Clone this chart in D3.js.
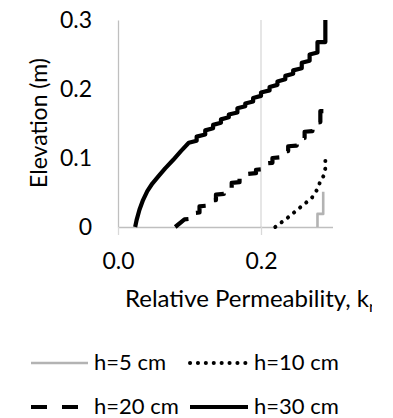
<!DOCTYPE html>
<html><head><meta charset="utf-8">
<script src="https://cdn.jsdelivr.net/npm/d3@7"></script>
<style>body{margin:0;background:#fff}svg{display:block}text{font-family:Lato,"Open Sans",sans-serif;fill:#000}</style>
</head><body><svg id="c" width="393" height="418"></svg>
<script>
// Data: k = relative permeability, z = elevation (m)
const seriesNames = ["h=5 cm", "h=10 cm", "h=20 cm", "h=30 cm"];
const k5  = [0.279, 0.279, 0.287, 0.287];
const z5  = [0.000, 0.019, 0.019, 0.051];
const k10 = [0.220, 0.238, 0.2555, 0.271, 0.279, 0.2825, 0.288, 0.290, 0.290];
const z10 = [0.000, 0.014, 0.029, 0.042, 0.055, 0.065, 0.075, 0.085, 0.100];
const k20 = [0.080,0.093,0.103,0.103,0.114,0.114,0.125,0.125,0.137,0.137,0.148,0.148,0.159,0.159,0.170,0.170,0.182,0.182,0.193,0.193,0.204,0.204,0.216,0.216,0.227,0.227,0.238,0.238,0.250,0.250,0.261,0.261,0.272,0.272,0.283,0.283,0.290,0.290];
const z20 = [0.000,0.011,0.012,0.020,0.021,0.030,0.031,0.038,0.039,0.047,0.048,0.055,0.056,0.064,0.065,0.071,0.072,0.077,0.078,0.083,0.084,0.092,0.093,0.100,0.101,0.109,0.110,0.117,0.118,0.128,0.129,0.138,0.139,0.151,0.152,0.168,0.168,0.180];
const k30 = [0.024,0.026,0.030,0.035,0.041,0.048,0.057,0.066,0.077,0.088,0.099,0.110,0.110,0.122,0.122,0.133,0.133,0.144,0.144,0.155,0.155,0.167,0.167,0.178,0.178,0.189,0.189,0.200,0.200,0.212,0.212,0.223,0.223,0.234,0.234,0.245,0.245,0.257,0.257,0.268,0.268,0.279,0.279,0.290,0.290];
const z30 = [0.000,0.010,0.025,0.039,0.052,0.063,0.074,0.085,0.097,0.110,0.122,0.125,0.131,0.134,0.140,0.143,0.148,0.151,0.156,0.159,0.163,0.166,0.172,0.175,0.179,0.182,0.187,0.190,0.195,0.198,0.203,0.206,0.211,0.214,0.219,0.222,0.227,0.230,0.238,0.241,0.250,0.253,0.268,0.268,0.300];
const xTicks = [0.0, 0.2];
const yTicks = [0, 0.1, 0.2, 0.3];

const FS = 23;
const svg = d3.select("#c");
const x = d3.scaleLinear().domain([0, 0.3]).range([118, 332.5]);
const y = d3.scaleLinear().domain([0, 0.3]).range([227, 20]);

// gridline at 0.2
svg.append("g").selectAll("line").data(xTicks.filter(d => d > 0)).join("line")
  .attr("x1", d => x(d)).attr("x2", d => x(d)).attr("y1", y(0.3)).attr("y2", y(0))
  .attr("stroke", "#d9d9d9").attr("stroke-width", 1.3);

// y axis
const yAxis = svg.append("g").attr("transform", `translate(${x(0)},0)`)
  .call(d3.axisLeft(y).tickValues(yTicks).tickSize(0).tickPadding(26).tickFormat(d => d === 0 ? "0" : d3.format(".1f")(d)));
yAxis.select(".domain").attr("stroke", "#bfbfbf").attr("stroke-width", 1.3);
yAxis.selectAll("text").attr("font-size", FS).attr("font-family", "Lato").attr("fill", "#000");

// x axis
const xAxis = svg.append("g").attr("transform", `translate(0,${y(0)})`)
  .call(d3.axisBottom(x).tickValues(xTicks).tickSize(8).tickSizeOuter(0).tickFormat(d3.format(".1f")));
xAxis.select(".domain").attr("stroke", "#bfbfbf").attr("stroke-width", 1.3);
xAxis.selectAll(".tick line").attr("stroke", "#d9d9d9").attr("stroke-width", 1.3);
xAxis.selectAll("text").attr("font-size", FS).attr("font-family", "Lato").attr("fill", "#000")
  .attr("y", 42).attr("dy", 0);

// axis titles
svg.append("text").attr("transform", "translate(47,123) rotate(-90)").attr("text-anchor", "middle")
  .attr("font-size", FS).text("Elevation (m)");
svg.append("clipPath").attr("id", "tc").append("rect").attr("x", 0).attr("y", 0).attr("width", 372).attr("height", 418);
const xt = svg.append("text").attr("x", 125).attr("y", 307).attr("font-size", FS + 1).attr("clip-path", "url(#tc)");
xt.append("tspan").text("Relative Permeability, k");
xt.append("tspan").attr("font-size", 16).attr("dy", 5).text("r");

// series
const line = d3.line().x(d => x(d[0])).y(d => y(d[1]));
const zipS = (ks, zs) => ks.map((k, i) => [k, zs[i]]);
const styles = [
  {k: k5, z: z5, stroke: "#b3b3b3", w: 2.6, dash: null, cap: "butt"},
  {k: k10, z: z10, stroke: "#000", w: 4, dash: "0.1 7.8", cap: "round"},
  {k: k20, z: z20, stroke: "#000", w: 4.2, dash: "16 13", cap: "butt"},
  {k: k30, z: z30, stroke: "#000", w: 4.2, dash: null, cap: "butt"}
];
styles.forEach(s => {
  svg.append("path").datum(zipS(s.k, s.z)).attr("d", line).attr("fill", "none")
    .attr("stroke", s.stroke).attr("stroke-width", s.w).attr("stroke-linejoin", "round")
    .attr("stroke-linecap", s.cap).attr("stroke-dasharray", s.dash);
});

// legend
const legPos = [[31, 88, 363], [190, 248, 363], [31, 78, 407], [190, 248, 407]];
seriesNames.forEach((name, i) => {
  const s = styles[i], p = legPos[i];
  svg.append("line").attr("x1", p[0]).attr("x2", p[1]).attr("y1", p[2]).attr("y2", p[2])
    .attr("stroke", s.stroke).attr("stroke-width", s.w).attr("stroke-linecap", s.cap)
    .attr("stroke-dasharray", i === 2 ? "16 15" : s.dash);
  svg.append("text").attr("x", i % 2 === 0 ? 94 : 254).attr("y", p[2] + 6.5)
    .attr("font-size", FS - 1).text(name);
});
</script></body></html>
